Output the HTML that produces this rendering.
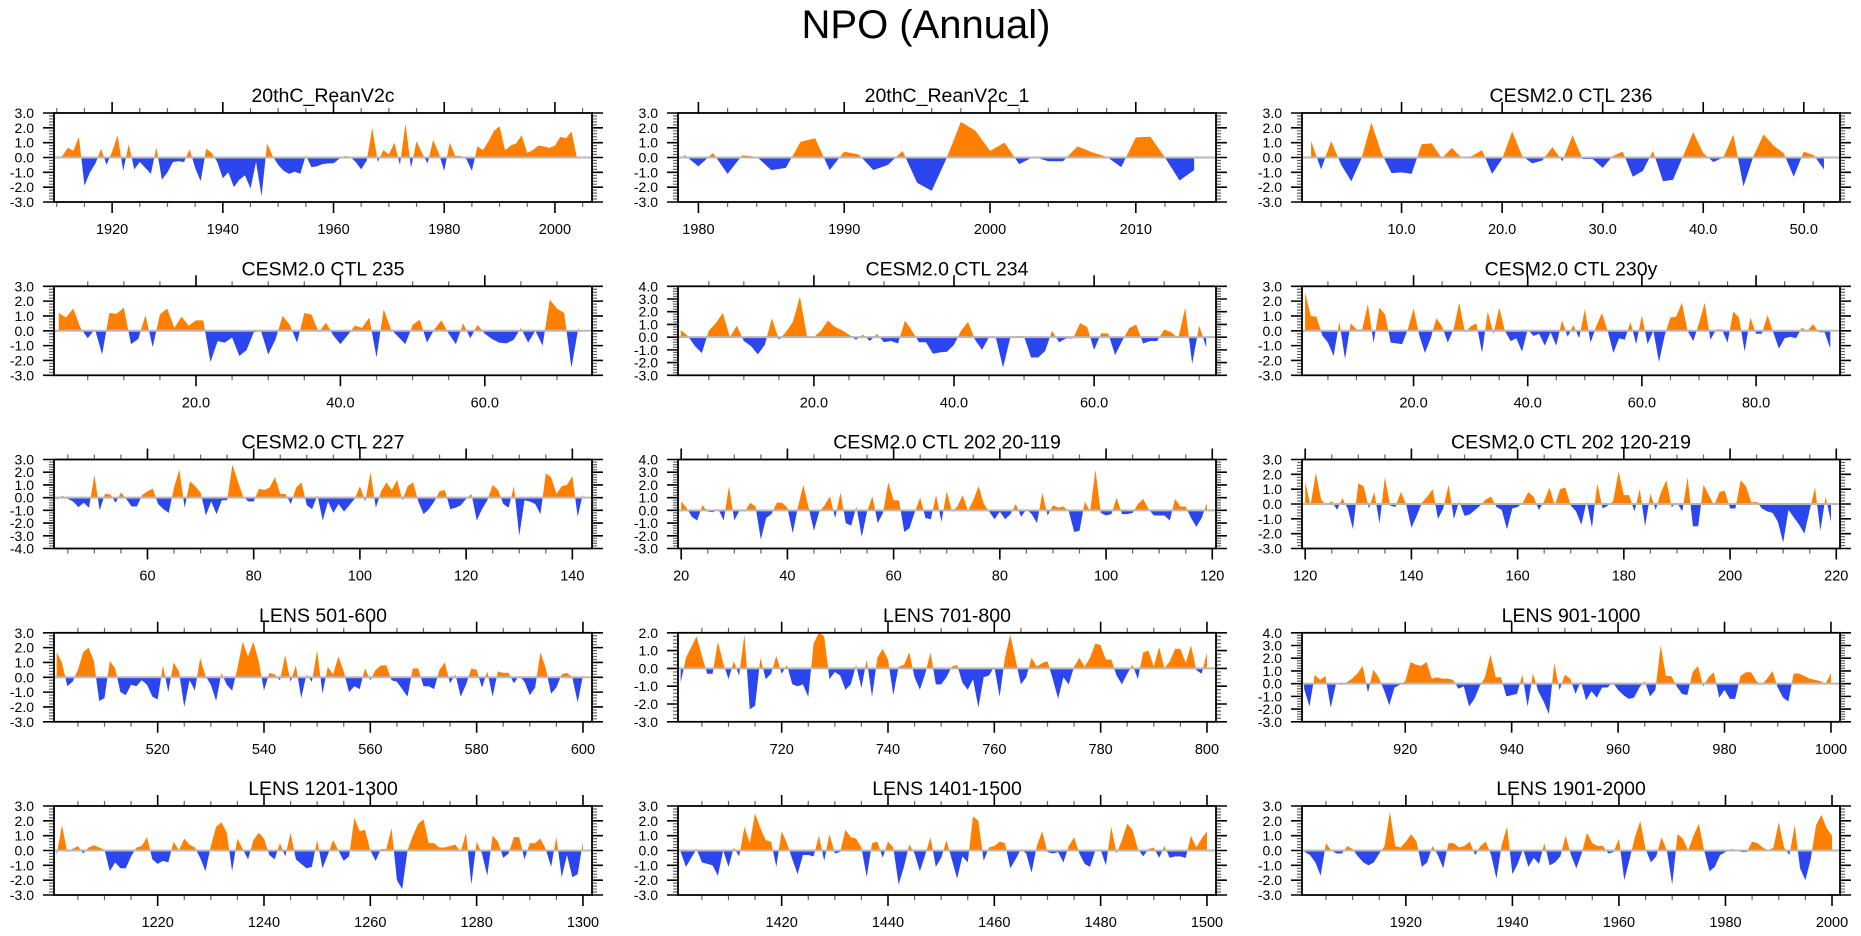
<!DOCTYPE html>
<html><head><meta charset="utf-8"><title>NPO (Annual)</title>
<style>
html,body{margin:0;padding:0;background:#fff;}
svg{display:block;font-family:"Liberation Sans",Arial,sans-serif;}
</style></head>
<body>
<svg id="chart" width="1861" height="936" viewBox="0 0 1861 936" xmlns="http://www.w3.org/2000/svg">
<rect x="0" y="0" width="1861" height="936" fill="#fff"/>
<text x="926" y="38" font-size="40" text-anchor="middle" fill="#000">NPO (Annual)</text>
</svg>
<script>
// ---------- data ----------
const p1Start = 1910;
const p1Values = [-0.05,0.1,0.65,0.45,1.4,-1.9,-1.0,-0.4,0.6,-0.5,0.4,1.5,-0.9,0.9,-0.8,-0.3,-0.7,-1.1,0.7,-1.5,-1.0,-0.3,-0.25,-0.3,0.55,-0.7,-1.6,0.6,0.3,-0.3,-1.4,-1.0,-2.0,-1.5,-1.2,-2.1,-0.3,-2.6,0.95,0.1,-0.5,-0.9,-1.1,-0.95,-1.1,0.15,-0.65,-0.6,-0.45,-0.4,-0.4,-0.1,0.1,0.05,-0.3,-0.8,-0.2,2.0,-0.3,0.5,0.2,1.0,-0.5,2.3,-0.7,1.1,0.3,-0.4,1.2,0.3,-0.9,1.0,0.1,0.1,-0.1,-0.9,0.75,0.5,1.1,1.8,2.1,0.5,0.8,0.95,1.5,0.3,0.5,0.8,0.75,0.65,0.8,1.4,1.3,1.75,-0.05];
const p2Start = 1979;
const p2Values = [0.2,-0.6,0.3,-1.1,0.15,0.05,-0.85,-0.7,1.05,1.3,-0.85,0.4,0.2,-0.85,-0.5,0.45,-1.7,-2.25,-0.1,2.4,1.8,0.45,1.0,-0.45,0.05,-0.25,-0.25,0.75,0.35,0.05,-0.65,1.35,1.4,0.0,-1.55,-0.85];
const p3Start = 1;
const p3Values = [1.1,-0.8,1.1,-0.5,-1.6,-0.1,2.35,0.3,-1.05,-1.0,-1.1,0.9,0.95,-0.05,0.65,-0.05,0.1,0.5,-1.1,-0.1,1.75,0.1,-0.4,-0.2,0.7,-0.25,1.5,-0.1,-0.1,-0.7,0.1,0.4,-1.3,-0.9,0.45,-1.6,-1.5,0.1,1.7,0.3,-0.3,0.0,1.55,-1.95,0.1,1.55,0.8,0.3,-1.3,0.4,0.15,-0.8];
const p4Start = 1;
const p4Values = [1.2,0.9,1.5,0.2,-0.5,0.1,-1.6,1.2,1.15,1.55,-0.9,-0.55,1.05,-1.1,1.1,1.5,0.2,0.95,0.35,0.7,0.7,-2.1,-0.7,-0.8,-0.45,-1.7,-1.3,-0.1,0.0,-1.6,-0.6,1.0,0.4,-0.8,1.2,1.1,-0.1,0.55,-0.3,-0.9,-0.3,0.35,0.2,0.9,-1.8,1.45,0.1,-0.4,-0.9,0.4,0.75,-0.8,0.1,0.7,-0.2,-0.9,0.5,-0.5,0.4,-0.2,-0.55,-0.8,-0.85,-0.6,0.2,-0.8,0.0,-1.0,2.1,1.5,1.2,-2.5,0.3];
const p5Start = 1;
const p5Values = [0.55,0.1,-0.7,-1.25,0.5,1.1,1.9,0.0,0.9,-0.3,-0.7,-1.35,-0.6,1.5,-0.2,0.4,1.2,3.2,0.1,0.0,0.5,1.3,0.8,0.55,0.2,-0.2,0.2,-0.3,0.25,-0.4,-0.3,-0.5,1.3,0.5,-0.4,-0.4,-1.3,-1.2,-1.15,-0.6,0.5,1.2,-0.2,-1.0,0.0,-0.1,-2.4,-0.1,0.1,0.05,-1.6,-1.6,-1.1,0.5,-0.4,-0.1,-0.1,1.1,0.8,-1.0,0.3,0.3,-1.4,-0.3,0.7,1.0,-0.5,-0.3,-0.3,0.6,0.4,-0.1,2.3,-2.1,0.9,-0.8];
const p6Start = 1;
const p6Values = [2.6,1.0,0.95,-0.3,-0.8,-1.7,0.6,-1.9,0.5,0.1,0.1,1.8,-0.8,1.55,1.1,-0.8,-0.85,-0.9,0.1,1.5,-0.3,-1.5,-0.5,0.85,0.3,-0.8,0.1,1.9,-0.1,0.3,0.5,-1.5,1.3,-0.2,1.55,0.0,-0.7,-0.5,-1.4,0.1,-0.35,-0.2,-1.0,-0.1,-1.0,0.7,-0.4,0.4,-0.5,1.45,-0.8,0.3,1.2,0.0,-1.5,-0.5,-0.6,0.6,-0.9,1.05,-0.9,0.0,-2.1,-0.3,0.9,0.95,1.9,0.0,-0.7,0.5,1.9,-0.6,0.1,0.1,-0.8,1.3,0.9,-1.4,0.9,-0.2,-0.2,1.05,-0.1,-1.2,-0.5,-0.4,-0.5,0.2,0.0,0.45,-0.1,-0.1,-1.2];
const p7Start = 43;
const p7Values = [-0.15,0.15,-0.1,-0.3,-0.75,-0.4,-0.8,1.8,-1.0,0.3,0.25,-0.4,0.4,-0.1,-0.7,-0.7,0.2,0.5,0.7,-0.5,-0.9,-1.2,0.8,2.2,-0.8,1.3,0.9,0.4,-1.4,-0.3,-1.3,-0.2,-0.2,2.6,1.3,0.1,-0.3,-0.3,0.7,0.6,0.8,1.6,0.3,0.3,-0.5,0.8,1.2,-0.6,-0.9,0.2,-1.8,-0.3,-1.2,-0.5,-1.1,-0.6,-0.1,0.9,-0.3,2.0,-0.8,0.5,1.2,0.6,1.4,-0.2,0.9,1.2,-0.3,-1.3,-0.9,-0.3,0.5,0.6,-0.9,-0.8,-0.6,-0.1,0.3,-1.8,-0.9,-0.2,1.0,0.6,-0.5,-0.8,0.9,-3.0,-0.2,-0.3,-0.5,-1.3,1.9,1.6,0.3,0.9,1.0,1.7,-1.5,0.3];
const p8Start = 20;
const p8Values = [0.7,0.2,-0.5,-0.8,0.4,-0.1,-0.15,0.1,-0.8,1.9,-0.8,0.0,-0.1,0.6,0.3,-2.3,-0.6,-0.3,0.6,0.6,0.2,-1.8,0.3,2.0,0.2,-1.6,-0.1,0.4,1.1,-0.6,1.4,-1.0,-1.2,0.3,-2.1,-0.1,1.1,-1.0,-0.2,2.2,0.8,0.8,-1.7,-1.4,-0.1,1.0,-0.6,-0.7,1.2,-0.9,1.5,-0.1,0.3,1.2,-0.05,0.8,1.9,0.5,-0.1,-0.7,-0.1,-0.7,-0.3,0.5,-0.5,0.1,-0.3,-1.0,1.4,-0.4,0.4,0.2,0.3,-0.1,-1.7,-1.6,0.7,-0.1,3.2,-0.2,-0.4,-0.3,1.0,-0.3,-0.3,-0.2,0.5,0.9,0.1,-0.4,-0.4,-0.4,-0.8,0.9,0.3,0.3,-0.6,-1.3,-0.6,0.6];
const p9Start = 120;
const p9Values = [1.5,-0.1,2.1,0.3,-0.1,0.2,-0.4,0.4,-0.3,-1.7,1.4,1.2,-0.3,0.8,-1.3,1.8,-0.1,-0.2,0.8,0.0,-1.6,-0.8,0.1,0.5,1.0,-1.0,-0.3,1.3,-1.0,0.2,-0.8,-0.7,-0.4,-0.1,0.3,0.5,-0.2,-0.4,-1.7,-0.3,-0.2,0.1,0.8,0.5,-0.4,0.2,1.1,-0.1,1.0,1.1,-0.1,-0.5,-1.4,0.2,-1.6,1.4,-0.3,-0.1,0.2,2.2,0.6,0.6,-0.5,1.0,-1.5,0.7,-0.4,0.8,1.6,-0.2,0.1,-0.5,1.8,-1.5,-1.5,1.3,0.6,-0.1,0.8,0.9,-0.3,-0.3,1.6,1.2,0.1,0.15,-0.3,-0.5,-0.6,-1.2,-2.6,-0.4,-0.9,-1.4,-2.0,-0.4,1.1,-1.8,0.5,-1.2];
const p10Start = 501;
const p10Values = [1.7,1.0,-0.6,-0.3,0.5,1.7,2.0,1.1,-1.6,-1.4,1.1,0.6,-1.0,-1.2,-0.5,-0.6,-0.2,-0.5,-1.3,-1.5,0.8,-1.0,1.0,0.4,-2.0,-0.2,-0.9,1.3,0.1,-0.5,-1.6,0.3,-0.5,-0.9,0.6,2.4,1.4,2.4,1.1,-0.9,0.3,0.2,-0.2,1.5,-0.3,0.8,-1.4,0.2,-0.3,1.8,-1.1,0.7,0.2,1.4,0.4,-1.0,-0.6,-0.8,0.6,-0.2,0.5,0.8,0.8,-0.2,-0.3,-0.8,-1.3,0.6,0.6,-0.6,-0.6,-0.8,0.5,1.0,-0.4,0.2,-1.3,-0.5,0.6,0.5,-0.7,0.4,-1.3,0.4,0.3,0.3,-0.4,0.1,-0.3,-1.2,-0.7,1.7,0.6,-1.1,-0.7,0.2,0.3,0.0,-1.7,0.1];
const p11Start = 701;
const p11Values = [-0.8,0.6,1.2,1.8,0.7,-0.3,-0.3,1.5,0.3,-0.6,0.4,-0.4,1.9,-2.3,-2.1,0.6,-0.6,-0.3,0.7,-0.3,0.2,-0.9,-1.0,-0.9,-1.6,1.4,2.0,1.8,-0.6,-0.2,-0.4,-1.2,-0.9,0.2,-1.1,0.5,-1.6,0.6,1.1,0.5,-1.5,0.1,0.2,0.9,-0.5,-1.2,-0.3,0.9,-0.9,-0.9,-0.5,0.1,0.2,-0.8,-1.2,-0.6,-2.2,-0.5,-0.4,0.1,-1.6,0.6,1.9,0.5,-0.9,-0.5,0.6,0.1,0.3,0.4,-0.6,-1.7,-0.5,-0.9,0.1,0.6,0.1,0.6,1.4,1.3,0.5,0.5,-0.4,-0.9,-0.3,0.2,-0.6,0.9,1.0,0.1,1.2,0.0,0.4,1.1,1.1,0.3,1.3,-0.1,-0.3,0.9];
const p12Start = 901;
const p12Values = [-0.4,-1.8,0.7,0.3,0.6,-1.9,0.0,-0.1,0.1,0.4,0.8,1.4,-0.7,1.1,0.5,-0.5,-1.7,-0.3,-0.1,0.2,1.7,1.5,1.4,1.7,0.4,0.5,0.4,0.4,0.3,-0.4,-0.2,-1.8,-1.2,-0.2,0.5,2.3,0.5,0.5,-1.0,-0.9,-0.8,0.7,-1.8,0.8,-0.6,-1.4,-2.4,1.6,-0.5,0.7,0.4,-0.8,0.2,-1.3,-0.6,-1.1,-0.3,-0.3,0.1,-0.5,-0.9,-1.2,-1.1,-0.3,0.2,-1.0,-0.5,3.0,0.6,0.6,-0.2,-0.8,-0.9,0.9,1.4,-0.2,0.5,0.9,-1.1,-0.5,-1.2,-1.2,0.6,0.9,0.9,0.2,-0.1,0.4,1.0,-0.3,-1.1,-1.4,0.8,0.8,0.6,0.4,0.3,0.2,0.0,0.8];
const p13Start = 1201;
const p13Values = [-0.3,1.7,-0.1,0.1,0.3,-0.2,0.2,0.35,0.2,0.05,-1.4,-0.8,-1.2,-1.2,-0.4,0.2,0.3,0.9,-0.6,-0.9,-0.7,-0.8,0.6,0.0,0.8,0.4,0.2,-0.5,-1.4,0.3,1.6,1.9,1.2,-1.4,0.8,0.1,-0.6,0.7,1.2,0.8,-0.3,-0.6,0.5,-0.4,1.2,-0.6,-0.9,-1.2,-1.1,0.7,-1.2,-0.3,0.7,0.0,-0.7,-0.4,2.2,1.3,1.4,0.0,-0.7,0.1,0.1,1.5,-2.0,-2.6,0.0,1.0,1.8,2.1,0.5,0.5,0.2,0.2,0.3,0.4,-0.1,1.2,-2.3,0.6,-0.2,-1.7,1.0,0.6,-0.5,-0.2,0.9,0.9,-0.6,0.5,0.5,0.8,0.1,-1.1,0.9,-1.8,-0.3,-1.8,-1.6,0.6];
const p14Start = 1401;
const p14Values = [-0.1,-1.1,-0.5,0.1,-0.8,-0.9,-1.0,-1.7,0.0,-1.1,0.2,-0.4,1.6,0.5,2.5,1.5,0.7,0.6,-1.1,1.3,0.5,-0.6,-1.6,-0.3,-0.3,-0.4,1.0,-0.7,1.1,-0.2,-0.1,1.4,0.9,0.8,0.2,-1.8,0.5,0.6,-0.5,0.6,0.2,-2.3,-1.1,0.4,-0.2,-1.4,-0.3,0.9,-1.1,-0.5,0.7,-0.6,-1.9,-0.4,-0.8,2.3,2.0,-0.7,0.2,0.3,0.6,0.5,-1.2,-0.6,0.1,-0.2,-1.5,0.3,1.3,-0.1,-0.2,-0.1,-0.8,0.3,0.9,-0.2,-0.9,-1.1,0.0,0.05,-1.0,1.6,-0.2,0.7,1.8,1.4,0.1,-0.4,0.1,0.2,-0.5,0.3,-0.5,-0.4,-0.4,-0.5,1.0,0.2,0.8,1.3];
const p15Start = 1901;
const p15Values = [-0.1,-0.3,-0.8,-1.7,0.5,0.0,-0.2,-0.2,0.3,0.1,-0.4,-0.8,-1.0,-0.8,-0.2,0.3,2.6,0.3,0.2,0.6,1.1,0.6,-1.1,-0.8,0.3,-0.3,-1.2,0.5,0.5,0.2,0.3,0.6,-0.3,0.3,0.6,-0.3,-1.9,0.4,1.6,-1.6,-0.9,0.1,-1.1,-0.5,-0.9,0.5,-1.0,-0.8,-0.4,1.0,-0.3,-1.2,-0.2,1.2,0.5,0.3,0.3,-0.2,-0.1,0.8,-2.0,-0.6,0.9,2.0,0.1,-0.8,-0.4,0.9,0.0,-2.3,1.1,0.8,0.0,1.0,1.8,0.0,-1.4,-1.1,-0.3,-0.1,0.1,0.05,-0.1,-0.1,0.6,0.5,0.2,0.0,0.2,1.9,0.2,-0.3,1.7,-1.2,-2.0,-0.6,1.7,2.4,1.5,1.0];
const panelTitles = ["20thC_ReanV2c","20thC_ReanV2c_1","CESM2.0 CTL 236","CESM2.0 CTL 235","CESM2.0 CTL 234","CESM2.0 CTL 230y","CESM2.0 CTL 227","CESM2.0 CTL 202 20-119","CESM2.0 CTL 202 120-219","LENS 501-600","LENS 701-800","LENS 901-1000","LENS 1201-1300","LENS 1401-1500","LENS 1901-2000"];

// ---------- axis configuration ----------
const panels = [
 {v:p1Values,s:p1Start,xr:[1909.5,2006.7],yr:[-3,3],mj:20,mn:5,dec:0},
 {v:p2Values,s:p2Start,xr:[1978.6,2015.5],yr:[-3,3],mj:10,mn:2,dec:0},
 {v:p3Values,s:p3Start,xr:[0.1,53.6],yr:[-3,3],mj:10,mn:2,dec:1},
 {v:p4Values,s:p4Start,xr:[0.33,74.85],yr:[-3,3],mj:20,mn:5,dec:1},
 {v:p5Values,s:p5Start,xr:[0.6,77.4],yr:[-3,4],mj:20,mn:5,dec:1},
 {v:p6Values,s:p6Start,xr:[0.46,94.7],yr:[-3,3],mj:20,mn:5,dec:1},
 {v:p7Values,s:p7Start,xr:[42.4,143.7],yr:[-4,3],mj:20,mn:5,dec:0},
 {v:p8Values,s:p8Start,xr:[19.4,120.7],yr:[-3,4],mj:20,mn:5,dec:0},
 {v:p9Values,s:p9Start,xr:[119.4,220.7],yr:[-3,3],mj:20,mn:5,dec:0},
 {v:p10Values,s:p10Start,xr:[500.5,601.7],yr:[-3,3],mj:20,mn:5,dec:0},
 {v:p11Values,s:p11Start,xr:[700.5,801.7],yr:[-3,2],mj:20,mn:5,dec:0},
 {v:p12Values,s:p12Start,xr:[900.6,1001.7],yr:[-3,4],mj:20,mn:5,dec:0},
 {v:p13Values,s:p13Start,xr:[1200.5,1301.7],yr:[-3,3],mj:20,mn:5,dec:0},
 {v:p14Values,s:p14Start,xr:[1400.5,1501.7],yr:[-3,3],mj:20,mn:5,dec:0},
 {v:p15Values,s:p15Start,xr:[1900.5,2001.5],yr:[-3,3],mj:20,mn:5,dec:0}
];
const colLeft=[54,678,1302], rowTop=[113,286.3,459.5,632.8,806], PW=538, PH=89;
const NS="http://www.w3.org/2000/svg";
const svg=document.getElementById('chart');
function mk(tag,attrs,parent){const e=document.createElementNS(NS,tag);for(const k in attrs)e.setAttribute(k,attrs[k]);(parent||svg).appendChild(e);return e;}
const defs=mk('defs',{});

panels.forEach((p,i)=>{
  const L=colLeft[i%3], T=rowTop[Math.floor(i/3)];
  const sx=x=>L+(x-p.xr[0])/(p.xr[1]-p.xr[0])*PW;
  const sy=y=>T+(p.yr[1]-y)/(p.yr[1]-p.yr[0])*PH;
  const g=mk('g',{});
  
  
  const zy=sy(0);
  const cpA=mk('clipPath',{id:'ca'+i},defs); mk('rect',{x:L,y:T,width:PW,height:zy-T},cpA);
  const cpB=mk('clipPath',{id:'cb'+i},defs); mk('rect',{x:L,y:zy,width:PW,height:T+PH-zy},cpB);
  let d='M'+sx(p.s).toFixed(2)+','+zy.toFixed(2);
  p.v.forEach((val,k)=>{d+=' L'+sx(p.s+k).toFixed(2)+','+sy(val).toFixed(2);});
  d+=' L'+sx(p.s+p.v.length-1).toFixed(2)+','+zy.toFixed(2)+' Z';
  const pos=mk('path',{d:d,fill:'#ff8000','clip-path':'url(#ca'+i+')'},g);
  
  
  const neg=mk('path',{d:d,fill:'#2b46ee','clip-path':'url(#cb'+i+')'},g);
  
  
  const zl=mk('line',{x1:L,x2:L+PW,y1:zy,y2:zy,stroke:'#b8b8b8','stroke-width':2},g);
  
  
  let td='', tdm='';
  const x0=Math.ceil(p.xr[0]/p.mn-1e-9)*p.mn;
  for(let x=x0;x<=p.xr[1]+1e-9;x+=p.mn){
    const X=sx(x).toFixed(2); const major=Math.abs(x/p.mj-Math.round(x/p.mj))<1e-6;
    const len=major?11:5;
    if(major) td+='M'+X+','+T+' v'+(-len)+' M'+X+','+(T+PH)+' v'+len+' ';
    else tdm+='M'+X+','+T+' v'+(-len)+' M'+X+','+(T+PH)+' v'+len+' ';
    if(major){
      const t=mk('text',{x:X,y:T+PH+32,'font-size':14.5,'text-anchor':'middle',fill:'#000'},g);
      t.textContent=x.toFixed(p.dec);
      
      
    }
  }
  for(let k=Math.round(p.yr[0]*5);k<=Math.round(p.yr[1]*5);k++){
    const y=k/5, Y=sy(y).toFixed(2), major=(k%5===0);
    const len=major?11:5;
    if(major) td+='M'+L+','+Y+' h'+(-len)+' M'+(L+PW)+','+Y+' h'+len+' ';
    else tdm+='M'+L+','+Y+' h'+(-len)+' M'+(L+PW)+','+Y+' h'+len+' ';
    if(major){
      const t=mk('text',{x:L-20,y:(+Y+5).toFixed(2),'font-size':14,'text-anchor':'end',fill:'#000'},g);
      t.textContent=y.toFixed(1);
      
      
    }
  }
  const mt=mk('path',{d:tdm,stroke:'#666','stroke-width':1.2,fill:'none'},g);
  
  
  const jt=mk('path',{d:td,stroke:'#000','stroke-width':1.6,fill:'none'},g);
  
  
  const fr=mk('rect',{x:L,y:T,width:PW,height:PH,fill:'none',stroke:'#000','stroke-width':1.8},g);
  
  
  const tt=mk('text',{x:L+PW/2,y:T-11,'font-size':19.5,'text-anchor':'middle',fill:'#000'},g);
  tt.textContent=panelTitles[i];
  
  
});
</script>
</body></html>
